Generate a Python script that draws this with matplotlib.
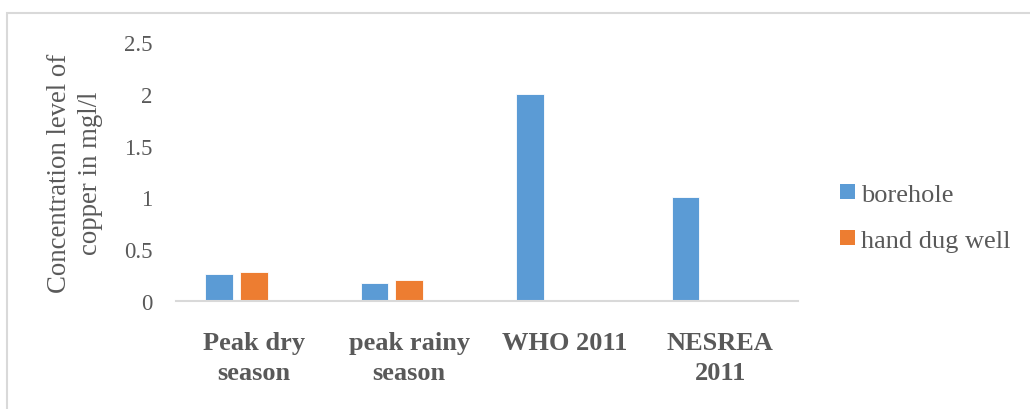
import matplotlib
matplotlib.use("Agg")
import matplotlib.pyplot as plt
from matplotlib.patches import Rectangle, Patch
import numpy as np

categories = ["Peak dry\nseason", "peak rainy\nseason", "WHO 2011", "NESREA\n2011"]
borehole = [0.26, 0.17, 2.0, 1.0]
hand_dug_well = [0.28, 0.20, None, None]
series_names = ["borehole", "hand dug well"]
yticks = [0, 0.5, 1, 1.5, 2, 2.5]
ytick_labels = ["0", "0.5", "1", "1.5", "2", "2.5"]

BLUE = "#5B9BD5"
ORANGE = "#ED7D31"
TEXT = "#595959"
GRID = "#D9D9D9"

plt.rcParams["font.family"] = ["Liberation Serif", "DejaVu Serif"]

fig = plt.figure(figsize=(10.3, 4.1), dpi=100)
ax = fig.add_axes([176 / 1030, 108 / 410, 622 / 1030, 259 / 410])

x = np.arange(len(categories))
bw = 0.177
off = 0.223
b_vals = [v if v is not None else 0 for v in borehole]
ax.bar(x - off, b_vals, width=bw, color=BLUE, edgecolor="white", linewidth=0.6)
hx = [xi for xi, v in zip(x, hand_dug_well) if v is not None]
hv = [v for v in hand_dug_well if v is not None]
ax.bar(hx, hv, width=bw, color=ORANGE, edgecolor="white", linewidth=0.6)

ax.set_xlim(-0.5, len(categories) - 0.5)
ax.set_ylim(0, 2.5)
ax.set_yticks(yticks)
ax.set_yticklabels(ytick_labels)
ax.set_xticks(x)
ax.set_xticklabels(categories, fontweight="bold", fontsize=19, color=TEXT,
                   linespacing=1.4)
ax.tick_params(axis="y", length=0, pad=17, labelsize=16.5, labelcolor=TEXT)
ax.tick_params(axis="x", length=0, pad=21.5)

for s in ["top", "right", "left"]:
    ax.spines[s].set_visible(False)
ax.spines["bottom"].set_color(GRID)
ax.spines["bottom"].set_linewidth(1.5)

fig.text(75 / 1030, 1 - 173 / 410, "Concentration level of\ncopper in mgl/l",
         rotation=90, ha="center", va="center", fontsize=19.3, color=TEXT,
         linespacing=1.35)

handles = [Patch(facecolor=BLUE, edgecolor="none"),
           Patch(facecolor=ORANGE, edgecolor="none")]
leg = fig.legend(handles, series_names, loc="center left",
                 bbox_to_anchor=(840 / 1030, 1 - 219 / 410), frameon=False,
                 fontsize=19, labelcolor=TEXT, handlelength=0.55,
                 handleheight=0.48, handletextpad=0.25, labelspacing=0.9,
                 borderaxespad=0, borderpad=0)

fig.patches.append(Rectangle((7 / 1030, -0.1), 1.2, 1 - 14 / 410 + 0.1,
                             transform=fig.transFigure, fill=False,
                             edgecolor=GRID, linewidth=1.5))

fig.savefig("out.png", dpi=100)
